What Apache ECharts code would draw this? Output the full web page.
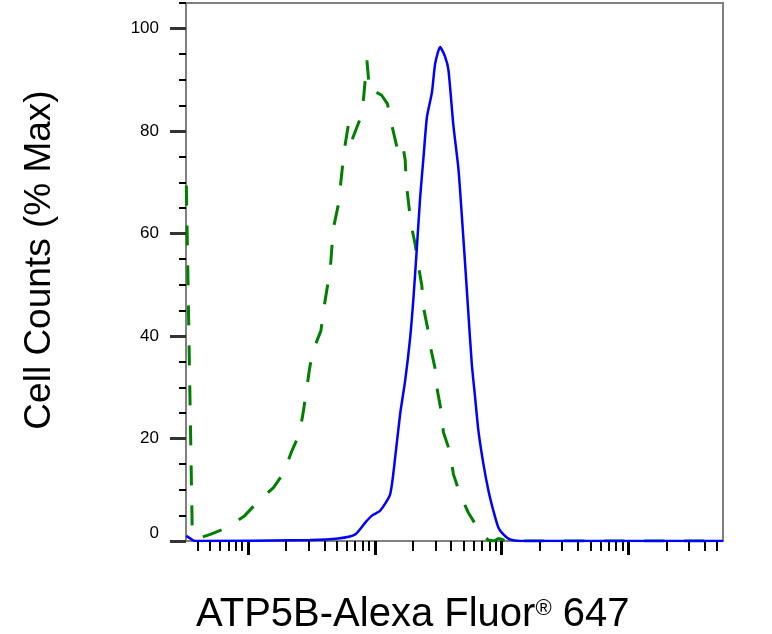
<!DOCTYPE html>
<html>
<head>
<meta charset="utf-8">
<script src="https://cdn.jsdelivr.net/npm/echarts@6/dist/echarts.min.js"></script>
<style>html,body{margin:0;padding:0;background:#fff}#c{width:772px;height:634px}</style>
</head>
<body>
<div id="c"></div>
<script>
// Fluorescence intensity (log scale) and cell counts (% of max)
var blueX = [3.27, 3.51, 3.84, 30.9, 51.5, 70.2, 84.1, 95.5, 110.2, 132.1, 144.8, 158.5, 173.6, 190.1, 201.9, 214.8, 228.0, 242.2, 257.6, 282.0, 299.4, 327.5, 358.7, 380.9, 417.0, 456.7, 485.6, 515.3, 547.2, 582.1, 618.0, 656.2, 718.8, 787.4, 861.0, 943.6, 1033, 1166, 1399, 55600];
var blueY = [1.0, 0.5, 0, 0.2, 0.5, 1.3, 3.6, 5.0, 5.9, 9.1, 16.3, 24.8, 31.3, 39.7, 47.5, 57.3, 67.1, 74.9, 82.7, 87.5, 93.2, 96.4, 94.5, 91.9, 81.0, 72.6, 63.5, 54.1, 44.3, 34.5, 28.0, 21.5, 15.0, 9.8, 5.9, 2.6, 1.3, 0.3, 0, 0];

var greenX = [3.27, 3.64, 4.06, 5.05, 6.84, 9.40, 12.1, 15.9, 19.1, 22.2, 25.5, 27.4, 28.8, 30.6, 32.5, 37.6, 39.4, 42.0, 44.6, 45.9, 47.3, 51.8, 56.1, 58.5, 62.1, 66.0, 76.7, 81.5, 86.7, 91.2, 102.6, 113.3, 125.9, 136.5, 149.4, 163.7, 173.8, 176.7, 184.4, 192.5, 208.0, 220.9, 235.0, 242.0, 260.2, 276.7, 299.3, 312.0, 333.6, 347.8, 392.5, 416.9, 470.9, 547.3, 668.1, 782.9, 873, 943.6, 1010, 1080, 55600];
var greenY = [69.4, 2.0, 0.5, 1.3, 2.6, 4.9, 7.8, 10.4, 13.3, 17.6, 20.9, 25.4, 29.0, 33.6, 37.1, 41.0, 44.9, 49.2, 53.1, 57.3, 61.2, 65.8, 73.9, 77.5, 81.4, 78.2, 82.4, 86.3, 93.8, 87.5, 87.6, 87.0, 85.3, 81.1, 76.9, 78.2, 74.3, 70.0, 66.1, 61.9, 58.0, 53.7, 49.8, 45.6, 41.7, 37.5, 33.6, 29.3, 25.4, 21.2, 17.3, 13.0, 9.1, 5.5, 2.0, 0.2, 0, 0.5, 0.3, 0, 0];

var xMajorTicks = [10, 100, 1000, 10000];
var xMinorTicks = [4, 5, 6, 7, 8, 9, 20, 30, 40, 50, 60, 70, 80, 90, 200, 300, 400, 500, 600, 700, 800, 900, 2000, 3000, 4000, 5000, 6000, 7000, 8000, 9000, 20000, 30000, 40000, 50000];
var yMajorTicks = [0, 20, 40, 60, 80, 100];
var yMinorTicks = [5, 10, 15, 25, 30, 35, 45, 50, 55, 65, 70, 75, 85, 90, 95, 105];

var xTitle = 'ATP5B-Alexa Fluor';
var xTitleMark = '®';
var xTitleTail = ' 647';
var yTitle = 'Cell Counts (% Max)';

function pairs(xs, ys) { return xs.map(function (x, i) { return [x, ys[i]]; }); }

var FONT = 'Liberation Sans, Arial, sans-serif';
var chart = echarts.init(document.getElementById('c'));
var X_MIN = 3.25, X_MAX = 55600;
chart.setOption({
  animation: false,
  backgroundColor: '#fff',
  grid: { left: 186, right: 49, top: 3, bottom: 93, show: true, borderColor: '#808080', borderWidth: 2, backgroundColor: 'transparent' },
  xAxis: [
    { type: 'log', position: 'bottom', min: X_MIN, max: X_MAX,
      axisLine: { show: true, lineStyle: { color: '#808080', width: 2 } },
      axisTick: { show: true, customValues: xMajorTicks, length: 14, lineStyle: { color: '#000', width: 3 } },
      axisLabel: { show: false }, splitLine: { show: false }, minorTick: { show: false } },
    { type: 'log', position: 'bottom', min: X_MIN, max: X_MAX,
      axisLine: { show: false },
      axisTick: { show: true, customValues: xMinorTicks, length: 10, lineStyle: { color: '#000', width: 2 } },
      axisLabel: { show: false }, splitLine: { show: false } }
  ],
  yAxis: [
    { type: 'value', position: 'left', min: 0, max: 105,
      axisLine: { show: true, lineStyle: { color: '#808080', width: 2 } },
      axisTick: { show: true, customValues: yMajorTicks, length: 16, lineStyle: { color: '#333', width: 3 } },
      axisLabel: { show: true, customValues: yMajorTicks, margin: 27, color: '#000',
        fontFamily: FONT, fontSize: 17,
        formatter: function (v) { return v === 0 ? '{z|0}' : String(v); },
        rich: { z: { fontFamily: FONT, fontSize: 17, color: '#000', padding: [0, 0, 16, 0] } } },
      splitLine: { show: false } },
    { type: 'value', position: 'left', min: 0, max: 105,
      axisLine: { show: false },
      axisTick: { show: true, customValues: yMinorTicks, length: 7, lineStyle: { color: '#000', width: 2 } },
      axisLabel: { show: false }, splitLine: { show: false } }
  ],
  series: [
    { type: 'line', xAxisIndex: 0, yAxisIndex: 0, data: pairs(greenX, greenY), showSymbol: false, smooth: false,
      lineStyle: { color: '#008000', width: 3, type: [20, 20] }, z: 2 },
    { type: 'line', xAxisIndex: 0, yAxisIndex: 0, data: pairs(blueX, blueY), showSymbol: false, smooth: 0.2,
      lineStyle: { color: '#0000ff', width: 2.5 }, z: 3 }
  ],
  graphic: [
    { type: 'text', left: 196, top: 595,
      style: { text: '{a|' + xTitle + '}{r|' + xTitleMark + '}{a|' + xTitleTail + '}', fill: '#000',
        rich: {
          a: { fontFamily: FONT, fontSize: 40, lineHeight: 46, fill: '#000', verticalAlign: 'middle' },
          r: { fontFamily: FONT, fontSize: 22, lineHeight: 20, padding: [0, 0, 12, 0], fill: '#000', verticalAlign: 'middle' }
        } } },
    { type: 'text', x: 40, y: 260, rotation: Math.PI / 2,
      style: { text: yTitle, fill: '#000', font: '37px "Liberation Sans", Arial, sans-serif', textAlign: 'center', textVerticalAlign: 'middle' } }
  ]
});
</script>
</body>
</html>
